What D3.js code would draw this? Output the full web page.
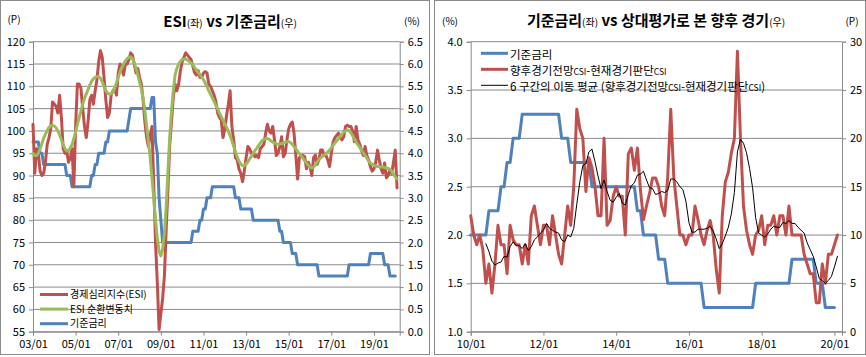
<!DOCTYPE html>
<html><head><meta charset="utf-8">
<script src="https://cdn.jsdelivr.net/npm/d3@7/dist/d3.min.js"></script>
<style>
body{margin:0;background:#fff;}
svg{display:block;font-family:"Noto Sans CJK KR","Noto Sans",sans-serif;}
</style></head><body>
<svg id="c" width="866" height="357"></svg>
<script>
// ---------------- LEFT CHART DATA (monthly, 2003/01 ~ 2020/02) ----------------
const leftXTicks = [0, 24, 48, 72, 96, 120, 144, 168, 192];
const leftXLabels = ["03/01","05/01","07/01","09/01","11/01","13/01","15/01","17/01","19/01"];
const leftYTicks = [55,60,65,70,75,80,85,90,95,100,105,110,115,120];
const leftY2Ticks = [0,0.5,1,1.5,2,2.5,3,3.5,4,4.5,5,5.5,6,6.5];

// 경제심리지수(ESI), from 2003/01
const esi = [
101.5,90.5,96,95,91,90,90.5,93,97,98.5,100.5,106.5,106,105.5,104,108,103,96,95,95.5,
93,94,96,87.5,101,110.5,110.5,109.5,105,101,98.5,102,107,108,106,109,111.5,115.5,118,116.5,
112,107,103,104,108,109,109.5,108,113,115,114,112.5,115,115,116,117.5,117,115,113,114,
112,110.5,107,102,98.5,96.5,99,101,88,75,66,55.5,59,62.5,67.5,78,87,97,102,107.5,
110.5,109,110.5,113.5,115.5,116.5,117.5,117,116.5,116,114.5,113,112.5,113.5,112,112,113,113.3,113,110.5,
110,109,108,106.5,104,103,102.5,98.5,100.5,103.5,106,109,101,98,94,93.5,91.5,90.5,88.6,91,
94,96.5,96,95,95,94.2,94.5,94,96,96.5,97,99.5,101.5,100,99.5,101,98,94.5,95,96.5,
98.7,94.2,95,98,100.5,101.5,102,99.5,94.6,89.2,94,94.5,94.5,94.2,91.5,93,92,90,94,94.6,
92.5,93.5,95.7,95.7,94.5,94.5,93.5,92,95,97.5,98.5,99,99.5,98.5,98,98.7,101,101.3,101,101,
100,97.6,101,98,97,95.7,94.5,96.5,94.5,93.5,92,91,91.5,93,95.7,93.5,91.5,90.5,92.8,89.5,
90,91.3,90.5,93,95.7,87.2];

// ESI 순환변동치, from 2003/01
const esiCycle = [
95,94.5,94.5,95,96,97.2,98.4,99.3,100.1,100.8,101.1,101.2,101.1,100.7,100,99.1,98,97,96,95.5,
95.6,96.2,97,98.3,99.8,101.5,103,104.5,106,107.3,108.3,109.3,110.3,111.1,111.7,112,112.2,112.2,111.8,111,
110,109,108.5,108.2,108.3,108.7,109.6,110.8,112,113.2,114.2,115,115.7,116.2,116.5,116.6,116.2,115.3,114,112.6,
111,109.4,107.3,104.5,101,97.5,94,89.5,85,80,76,73,72,73.5,77,83,91,98.5,104.5,109,
112.5,114,115,115.6,116,116.1,116.1,115.9,115.6,115.2,114.8,114.2,113.7,113.1,112.6,112,111.5,110.7,109.9,109,
108.2,107.4,106.6,105.7,104.9,104,103.2,102.4,101.6,100.8,99.9,99,97.8,96.6,95.3,94.2,93.2,92.6,92.2,92.2,
92.6,93.1,93.7,94.3,95,95.6,96.1,96.7,97.3,97.8,98.1,98.3,98.3,98.1,97.8,97.5,97.3,97.1,97,97.1,
97.2,97.3,97.4,97.6,97.6,97.4,97,96.5,96,95.4,94.9,94.4,93.9,93.3,92.8,92.3,91.9,91.7,91.9,92.4,
93,93.6,94,94.3,94.6,94.9,95.3,95.7,96.2,96.8,97.3,97.8,98.3,98.8,99.3,99.7,100,100.2,100.1,99.6,
98.9,98.2,97.5,96.9,96.3,95.7,95.1,94.5,93.9,93.3,92.8,92.5,92.3,92.1,92,92,91.9,91.9,91.8,91.7,
91.6,91.4,91,90.3,89.7,89.2];

// 기준금리 (%), from 2003/01 to 2020/01
const baseRate = [
4.25,4.25,4.25,4.25,4,4,3.75,3.75,3.75,3.75,3.75,3.75,3.75,3.75,3.75,3.75,3.75,3.75,3.75,3.5,
3.5,3.5,3.25,3.25,3.25,3.25,3.25,3.25,3.25,3.25,3.25,3.25,3.25,3.5,3.5,3.75,3.75,4,4,4,
4,4.25,4.25,4.5,4.5,4.5,4.5,4.5,4.5,4.5,4.5,4.5,4.5,4.5,4.75,5,5,5,5,5,
5,5,5,5,5,5,5,5.25,5.25,4.25,4,3,2.5,2,2,2,2,2,2,2,
2,2,2,2,2,2,2,2,2,2,2.25,2.25,2.25,2.25,2.5,2.5,2.75,2.75,3,3,
3,3.25,3.25,3.25,3.25,3.25,3.25,3.25,3.25,3.25,3.25,3.25,3.25,3.25,3,3,3,2.75,2.75,2.75,
2.75,2.75,2.75,2.75,2.5,2.5,2.5,2.5,2.5,2.5,2.5,2.5,2.5,2.5,2.5,2.5,2.5,2.5,2.5,2.25,
2.25,2,2,2,2,2,1.75,1.75,1.75,1.5,1.5,1.5,1.5,1.5,1.5,1.5,1.5,1.5,1.5,1.5,
1.5,1.25,1.25,1.25,1.25,1.25,1.25,1.25,1.25,1.25,1.25,1.25,1.25,1.25,1.25,1.25,1.25,1.25,1.5,1.5,
1.5,1.5,1.5,1.5,1.5,1.5,1.5,1.5,1.5,1.5,1.75,1.75,1.75,1.75,1.75,1.75,1.75,1.75,1.5,1.5,
1.5,1.25,1.25,1.25,1.25];

// ---------------- RIGHT CHART DATA (monthly, 2010/01 ~ 2020/02) ----------------
const rightXTicks = [0, 24, 48, 72, 96, 120];
const rightXLabels = ["10/01","12/01","14/01","16/01","18/01","20/01"];
const rightYTicks = [1,1.5,2,2.5,3,3.5,4];
const rightY2Ticks = [0,5,10,15,20,25,30];

// 기준금리 2010/01 ~ 2020/01 (same series, from month index 84)
const baseRateRight = baseRate.slice(84);

// 향후경기전망CSI - 현재경기판단CSI, from 2010/01
const csiGap = [
12,10,9,10,8.5,5,7,4,7,11,9,9,6,11,9.5,9,9,7,9,7,
12,13,11,9,11,11,9,12,10,8,7,10,13,11,15,23,21,20,14.5,18,
17,15,12,12,20,11,11.5,14,15,14,14,10,18.4,19,16.7,19,14.7,11.6,13,14.3,
15.9,15.9,15,13,12,16,23,16,13,10,10,9,10,10,13,11.6,10,9,10.5,11.5,
10,6.5,4,12,15.5,16.5,18.5,20,29,20,13,10.5,9,8,10,10.5,12,9,11,11,
12,10,12,12,10,13,10,10,10,10,8,7,6,6,3,3,7,5,8,8,
9,10];

// 6 구간의 이동 평균, from 2010/06
const csiMAStart = 5;
const csiMA = [
9.1,8.3,7.3,6.9,7.1,7.2,7.8,7.7,8.8,9.3,8.9,8.9,8.6,9.1,8.4,8.8,9.5,9.8,10.2,10.5,
11.2,10.7,10.5,10.3,10.2,9.5,9.3,10,9.8,10.7,13.2,15.5,17.2,17.4,18.6,18.9,17.6,16.1,14.8,15.7,
14.5,13.6,13.4,13.9,14.3,13.3,13.1,14.2,15.1,15.4,16.2,16.3,16.6,15.7,14.9,14.8,14.2,14.3,14.5,14.4,
14.6,15.8,15.8,15.5,15,14.7,13.5,11.3,10.3,10.3,10.6,10.6,10.6,10.7,10.9,10.4,9.6,8.6,9.1,9.9,
10.8,12.2,14.4,18.6,19.9,19.5,18.5,16.9,14.9,11.8,10.2,10,9.8,10.1,10.6,10.9,10.8,10.8,11.3,11.2,
11.5,11.2,11.2,10.8,10.5,10.2,9.2,8.5,7.8,6.7,5.5,5.3,5,5.3,5.7,6.7,7.8];

// ---------------- STYLE ----------------
const C_RED = "#C0504D", C_GREEN = "#9BBB59", C_BLUE = "#4F81BD";
const GRID = "#8a8a8a";
const TOP = 41.7, BOT = 331.7;

const svg = d3.select("#c");
// panel frames
svg.append("rect").attr("x",0.5).attr("y",0.5).attr("width",429).attr("height",354)
  .attr("fill","none").attr("stroke","#8c8c8c");
svg.append("rect").attr("x",434.5).attr("y",0.5).attr("width",431).attr("height",354)
  .attr("fill","none").attr("stroke","#8c8c8c");

function styleAxis(g){
  g.selectAll("path.domain").attr("stroke", GRID);
  g.selectAll(".tick line").attr("stroke", GRID);
  g.selectAll("text").attr("fill","#000").attr("font-size","11px")
    .attr("font-family",'"Noto Sans CJK KR","Noto Sans",sans-serif');
}

function drawChart(o){
  const g = svg.append("g");
  g.selectAll("line.grid").data(o.yTicks).join("line")
    .attr("x1", o.x.range()[0]).attr("x2", o.x.range()[1])
    .attr("y1", d => o.y(d)).attr("y2", d => o.y(d))
    .attr("stroke", GRID).attr("stroke-width", 1);
  const ax = g.append("g").attr("transform", `translate(${o.x.range()[0]},0)`)
    .call(d3.axisLeft(o.y).tickValues(o.yTicks).tickFormat(o.yFmt).tickSizeOuter(0).tickSize(4).tickPadding(4));
  styleAxis(ax);
  const ax2 = g.append("g").attr("transform", `translate(${o.x.range()[1]},0)`)
    .call(d3.axisRight(o.y2).tickValues(o.y2Ticks).tickFormat(o.y2Fmt).tickSizeOuter(0).tickSize(4).tickPadding(4));
  styleAxis(ax2);
  const axb = g.append("g").attr("transform", `translate(0,${BOT})`)
    .call(d3.axisBottom(o.x).tickValues(o.xTicks).tickFormat((d,i)=>o.xLabels[i]).tickSizeOuter(0).tickSize(4).tickPadding(5));
  styleAxis(axb);
  return g;
}

function addLine(g, data, x, y, color, width, start){
  const line = d3.line().x((d,i)=>x(i + (start||0))).y(d=>y(d));
  g.append("path").datum(data).attr("d", line).attr("fill","none")
    .attr("stroke", color).attr("stroke-width", width)
    .attr("stroke-linejoin","round").attr("stroke-linecap","round");
}

// ---------------- LEFT CHART ----------------
const xL = d3.scaleLinear().domain([0, 206.5]).range([33, 399.7]);
const yL = d3.scaleLinear().domain([55, 120]).range([BOT, TOP]);
const yL2 = d3.scaleLinear().domain([0, 6.5]).range([BOT, TOP]);
const gL = drawChart({x:xL, y:yL, y2:yL2, yTicks:leftYTicks, y2Ticks:leftY2Ticks,
  yFmt:d3.format("d"), y2Fmt:d3.format(".1f"), xTicks:leftXTicks, xLabels:leftXLabels});
addLine(gL, baseRate, xL, yL2, C_BLUE, 3);
addLine(gL, esi, xL, yL, C_RED, 3);
addLine(gL, esiCycle, xL, yL, C_GREEN, 3);

// left legend
const legL = [{t:"경제심리지수(ESI)", c:C_RED},{t:"ESI 순환변동치", c:C_GREEN},{t:"기준금리", c:C_BLUE}];
legL.forEach((d,i)=>{
  const yy = 294.5 + i*14.6;
  svg.append("line").attr("x1",40).attr("x2",68).attr("y1",yy).attr("y2",yy)
    .attr("stroke",d.c).attr("stroke-width",3);
  svg.append("text").attr("x",70).attr("y",yy).attr("dy","0.35em").attr("font-size","10px").text(d.t);
});

// left title
const tL = svg.append("text").attr("x",230).attr("y",27).attr("text-anchor","middle").attr("font-weight","bold").attr("font-size","15px");
tL.append("tspan").text("ESI");
tL.append("tspan").attr("font-size","10px").attr("font-weight","normal").text("(좌)");
tL.append("tspan").text(" vs 기준금리");
tL.append("tspan").attr("font-size","10px").attr("font-weight","normal").text("(우)");
svg.append("text").attr("x",14).attr("y",23).attr("text-anchor","middle").attr("font-size","10px").text("(P)");
svg.append("text").attr("x",412).attr("y",25).attr("text-anchor","middle").attr("font-size","10px").text("(%)");

// ---------------- RIGHT CHART ----------------
const xR = d3.scaleLinear().domain([0, 122.5]).range([470.7, 842]);
const yR = d3.scaleLinear().domain([1, 4]).range([BOT, TOP]);
const yR2 = d3.scaleLinear().domain([0, 30]).range([BOT, TOP]);
const gR = drawChart({x:xR, y:yR, y2:yR2, yTicks:rightYTicks, y2Ticks:rightY2Ticks,
  yFmt:d3.format(".1f"), y2Fmt:d3.format("d"), xTicks:rightXTicks, xLabels:rightXLabels});
addLine(gR, baseRateRight, xR, yR, C_BLUE, 3);
addLine(gR, csiGap, xR, yR2, C_RED, 3);
addLine(gR, csiMA, xR, yR2, "#000", 1, csiMAStart);

// right legend
const legR = [
  {parts:[["기준금리",11.5]], c:C_BLUE, w:3},
  {parts:[["향후경기전망",11.5],["CSI",8.5],["-현재경기판단",11.5],["CSI",8.5]], c:C_RED, w:3},
  {parts:[["6 구간의 이동 평균 (향후경기전망",11.5],["CSI",8.5],["-현재경기판단",11.5],["CSI",8.5],[")",11.5]], c:"#000", w:1}
];
legR.forEach((d,i)=>{
  const yy = 53.3 + i*16;
  svg.append("line").attr("x1",481).attr("x2",508).attr("y1",yy).attr("y2",yy)
    .attr("stroke",d.c).attr("stroke-width",d.w);
  const t = svg.append("text").attr("x",510).attr("y",yy).attr("dy","0.35em");
  d.parts.forEach(p=>t.append("tspan").attr("font-size",p[1]+"px").text(p[0]));
});

// right title
const tR = svg.append("text").attr("x",656).attr("y",26).attr("text-anchor","middle").attr("font-weight","bold").attr("font-size","15px");
tR.append("tspan").text("기준금리");
tR.append("tspan").attr("font-size","10px").attr("font-weight","normal").text("(좌)");
tR.append("tspan").text(" vs 상대평가로 본 향후 경기");
tR.append("tspan").attr("font-size","10px").attr("font-weight","normal").text("(우)");
svg.append("text").attr("x",450).attr("y",25).attr("text-anchor","middle").attr("font-size","10px").text("(%)");
svg.append("text").attr("x",852).attr("y",25).attr("text-anchor","middle").attr("font-size","10px").text("(P)");
</script>
</body></html>
